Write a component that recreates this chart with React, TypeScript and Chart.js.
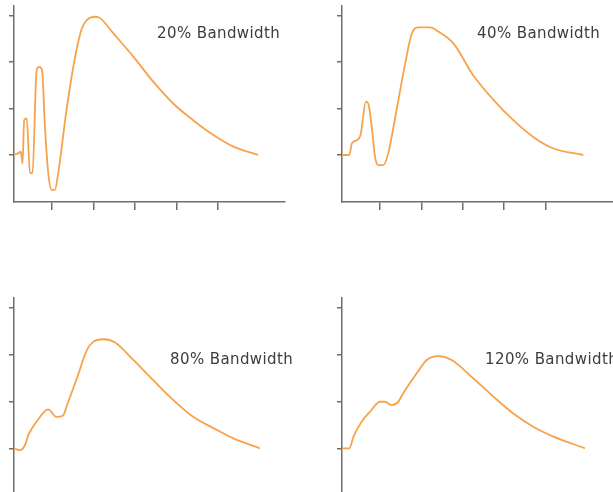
import React, { useEffect, useRef } from 'react';
import { Chart, registerables } from 'chart.js';

Chart.register(...registerables);

// ---- data ----
const bw20X = [0.08, 0.19, 0.25, 0.29, 0.33, 0.39, 0.47, 0.53, 0.63, 0.69, 0.76, 0.83, 0.91, 0.99, 1.07, 1.15, 1.35, 1.55, 1.72, 1.84, 2.04, 2.16, 2.48, 2.96, 3.44, 3.92, 4.40, 4.89, 5.37, 5.97];
const bw20Y = [0.0, 0.04, 0.07, -0.18, 0.75, 0.79, -0.39, -0.39, 1.83, 1.90, 1.83, 0.61, -0.39, -0.75, -0.75, -0.39, 0.97, 2.08, 2.73, 2.91, 2.98, 2.95, 2.62, 2.12, 1.58, 1.11, 0.75, 0.43, 0.18, 0.0];

const bw40X = [0.07, 0.26, 0.32, 0.44, 0.53, 0.66, 0.72, 0.80, 0.88, 0.96, 1.08, 1.20, 1.40, 1.61, 1.77, 1.93, 2.21, 2.41, 2.77, 3.25, 3.74, 4.22, 4.70, 5.19, 5.91];
const bw40Y = [0.0, 0.0, 0.25, 0.32, 0.43, 1.15, 1.10, 0.61, -0.04, -0.22, -0.22, 0.04, 0.97, 1.98, 2.62, 2.75, 2.75, 2.66, 2.41, 1.72, 1.19, 0.75, 0.39, 0.14, 0.0];

const bw80X = [0.08, 0.23, 0.35, 0.43, 0.63, 0.91, 1.10, 1.27, 1.35, 1.60, 1.84, 2.00, 2.24, 2.52, 2.96, 3.44, 3.92, 4.40, 4.89, 5.37, 6.01];
const bw80Y = [0.0, -0.04, 0.07, 0.28, 0.57, 0.83, 0.67, 0.70, 0.89, 1.49, 2.09, 2.27, 2.32, 2.25, 1.88, 1.45, 1.03, 0.67, 0.43, 0.21, 0.0];

const bw120X = [0.09, 0.26, 0.36, 0.56, 0.76, 1.00, 1.12, 1.28, 1.44, 1.56, 1.89, 2.13, 2.41, 2.73, 3.25, 3.74, 4.22, 4.70, 5.19, 5.95];
const bw120Y = [0.0, 0.0, 0.25, 0.57, 0.78, 0.99, 0.99, 0.92, 0.99, 1.17, 1.60, 1.88, 1.96, 1.88, 1.49, 1.10, 0.74, 0.46, 0.25, 0.0];

const panelLabels = ['20% Bandwidth', '40% Bandwidth', '80% Bandwidth', '120% Bandwidth'];
const xTickValues = [1, 2, 3, 4, 5];
const yTickValues = [0, 1, 2, 3];

// ---- layout / style ----
const LINE_COLOR = '#f7a24c';
const AXIS_COLOR = '#6e6e6e';
const TEXT_COLOR = '#3d3d3d';
const PAD_L = 14;
const PAD_T = 4;
const PAD_R = 4;
const PAD_B = 14;

type Panel = {
  label: string;
  xs: number[];
  ys: number[];
  left: number; right: number; top: number; bottom: number;
  x0: number; xu: number; y0: number; yu: number;
  textLeft: number; textTop: number;
};

const panels: Panel[] = [
  { label: panelLabels[0], xs: bw20X, ys: bw20Y, left: 14, right: 285, top: 6, bottom: 202, x0: 10.5, xu: 41.5, y0: 155, yu: 46.4, textLeft: 157, textTop: 25.6 },
  { label: panelLabels[1], xs: bw40X, ys: bw40Y, left: 342, right: 613, top: 6, bottom: 202, x0: 338.6, xu: 41.4, y0: 155, yu: 46.4, textLeft: 477, textTop: 25.6 },
  { label: panelLabels[2], xs: bw80X, ys: bw80Y, left: 14, right: 285, top: 298, bottom: 496, x0: 10.5, xu: 41.5, y0: 448.3, yu: 47, textLeft: 170, textTop: 352.3 },
  { label: panelLabels[3], xs: bw120X, ys: bw120Y, left: 342, right: 613, top: 298, bottom: 496, x0: 338.6, xu: 41.4, y0: 448.3, yu: 47, textLeft: 485, textTop: 352.3 },
];

function PanelChart({ p }: { p: Panel }) {
  const ref = useRef<HTMLCanvasElement | null>(null);
  const w = p.right - p.left + PAD_L + PAD_R;
  const h = p.bottom - p.top + PAD_T + PAD_B;

  useEffect(() => {
    if (!ref.current) return;
    const xmin = (p.left - p.x0) / p.xu;
    const xmax = (p.right - p.x0) / p.xu;
    const ymax = (p.y0 - p.top) / p.yu;
    const ymin = (p.y0 - p.bottom) / p.yu;
    const chart = new Chart(ref.current, {
      type: 'line',
      data: {
        datasets: [
          {
            data: p.xs.map((x, i) => ({ x, y: p.ys[i] })),
            borderColor: LINE_COLOR,
            borderWidth: 1.8,
            pointRadius: 0,
            cubicInterpolationMode: 'monotone',
            fill: false,
          },
        ],
      },
      options: {
        animation: false,
        responsive: false,
        devicePixelRatio: 1,
        layout: { padding: { left: 0, top: PAD_T, right: PAD_R, bottom: 0 } },
        plugins: { legend: { display: false }, tooltip: { enabled: false } },
        scales: {
          x: {
            type: 'linear',
            min: xmin,
            max: xmax,
            afterBuildTicks: (s: any) => { s.ticks = xTickValues.map((v) => ({ value: v })); },
            afterFit: (s: any) => { s.height = PAD_B; },
            grid: { drawOnChartArea: false, drawTicks: true, tickLength: 8, color: AXIS_COLOR, lineWidth: 1.5 },
            border: { display: true, color: AXIS_COLOR, width: 1.5 },
            ticks: { display: false },
          },
          y: {
            type: 'linear',
            min: ymin,
            max: ymax,
            afterBuildTicks: (s: any) => { s.ticks = yTickValues.map((v) => ({ value: v })); },
            afterFit: (s: any) => { s.width = PAD_L; },
            grid: { drawOnChartArea: false, drawTicks: true, tickLength: 5, color: AXIS_COLOR, lineWidth: 1.5 },
            border: { display: true, color: AXIS_COLOR, width: 1.5 },
            ticks: { display: false },
          },
        },
      } as any,
    });
    return () => chart.destroy();
  }, []);

  return (
    <>
      <canvas
        ref={ref}
        width={w}
        height={h}
        style={{ position: 'absolute', left: p.left - PAD_L, top: p.top - PAD_T, width: w, height: h }}
      />
      <div
        style={{
          position: 'absolute',
          left: p.textLeft,
          top: p.textTop,
          font: '15px "DejaVu Sans"',
          lineHeight: '15px',
          letterSpacing: '0.4px',
          color: TEXT_COLOR,
          whiteSpace: 'nowrap',
        }}
      >
        {p.label}
      </div>
    </>
  );
}

export default function App() {
  return (
    <div
      style={{
        position: 'fixed',
        left: 0,
        top: 0,
        width: 613,
        height: 492,
        overflow: 'hidden',
        background: '#ffffff',
      }}
    >
      {panels.map((p, i) => (
        <PanelChart key={i} p={p} />
      ))}
    </div>
  );
}
